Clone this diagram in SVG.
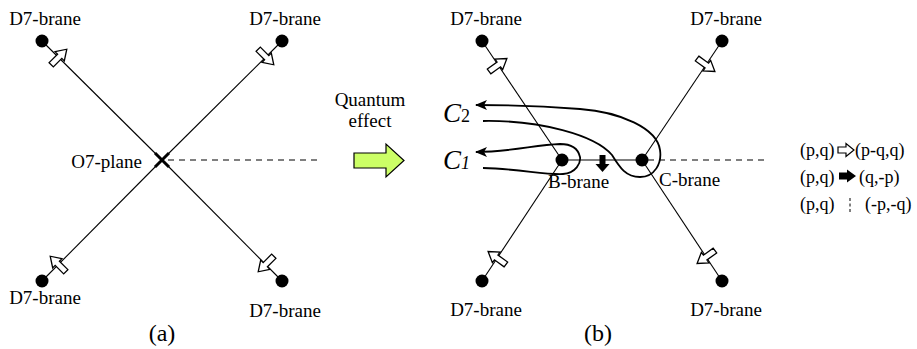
<svg xmlns="http://www.w3.org/2000/svg" width="917" height="349" viewBox="0 0 917 349">
<style>
text{font-family:"Liberation Serif","Times New Roman",serif;font-size:19px;fill:#000}
.big{font-size:24px}
.lg{font-size:18px}
.cut{stroke:#000;stroke-width:1.1;fill:none}
.dash{stroke:#000;stroke-width:1.1;stroke-dasharray:6 5;fill:none}
.dot{fill:#000}
.ha{fill:#fff;stroke:#000;stroke-width:1.3;stroke-linejoin:miter}
.curve{fill:none;stroke:#000;stroke-width:1.8}
.ci{font-style:italic;font-size:27px}
.cs{font-size:18px}
</style>
<defs>
<path id="harrow" d="M-11,-3 L1,-3 L1,-6.5 L11,0 L1,6.5 L1,3 L-11,3 Z"/>
<marker id="ah" viewBox="0 0 12 10" refX="11" refY="5" markerWidth="12" markerHeight="10" orient="auto" markerUnits="userSpaceOnUse">
<path d="M0,0 L12,5 L0,10 L3,5 Z" fill="#000"/>
</marker>
</defs>

<g id="connectors">
<line class="cut" x1="42" y1="41" x2="162" y2="160"/>
<line class="cut" x1="282" y1="41" x2="162" y2="160"/>
<line class="cut" x1="42" y1="281" x2="162" y2="160"/>
<line class="cut" x1="282" y1="281" x2="162" y2="160"/>
<line class="dash" x1="168" y1="160" x2="322" y2="160"/>
<line class="cut" x1="482" y1="41" x2="562" y2="160"/>
<line class="cut" x1="482" y1="281" x2="562" y2="160"/>
<line class="cut" x1="722" y1="41" x2="642" y2="160"/>
<line class="cut" x1="722" y1="281" x2="642" y2="160"/>
<line class="cut" x1="562" y1="160" x2="642" y2="160"/>
<line class="dash" x1="648" y1="160" x2="764" y2="160"/>
<path class="curve" marker-end="url(#ah)" d="M483,121 C540,120 595,135 612,155 C620,168 626,177 640,177 C655,177 662,163 660,150 C657,128 620,112 580,109 C540,106 510,105 476,105"/>
<path class="curve" marker-end="url(#ah)" d="M483,168 C520,169 545,175 563,174 C576,173 581,163 580,157 C578,148 570,144 560,144 C535,145 510,152 476,152"/>
</g>

<g id="a-tl"><circle class="dot" cx="42" cy="41" r="6.5"/><use href="#harrow" class="ha" transform="translate(59,57) rotate(-45)"/><text x="45" y="25" text-anchor="middle">D7-brane</text></g>
<g id="a-tr"><circle class="dot" cx="282" cy="41" r="6.5"/><use href="#harrow" class="ha" transform="translate(266,57) rotate(45)"/><text x="285" y="25" text-anchor="middle">D7-brane</text></g>
<g id="a-bl"><circle class="dot" cx="42" cy="281" r="6.5"/><use href="#harrow" class="ha" transform="translate(58,264) rotate(-135)"/><text x="45" y="304" text-anchor="middle">D7-brane</text></g>
<g id="a-br"><circle class="dot" cx="282" cy="281" r="6.5"/><use href="#harrow" class="ha" transform="translate(266,264) rotate(135)"/><text x="285" y="317" text-anchor="middle">D7-brane</text></g>
<g id="o7"><path d="M155,153 L169,167 M169,153 L155,167" stroke="#000" stroke-width="3"/><text x="142" y="168" text-anchor="end">O7-plane</text></g>
<text class="big" x="162" y="341" text-anchor="middle">(a)</text>

<g id="quantum">
<text x="370" y="106" text-anchor="middle">Quantum</text>
<text x="370" y="127" text-anchor="middle">effect</text>
<path d="M354,153 L386,153 L386,144 L404,160.5 L386,177 L386,168 L354,168 Z" fill="#ccff66" stroke="#000" stroke-width="1.2"/>
</g>

<g id="b-tl"><circle class="dot" cx="482" cy="41" r="6.5"/><use href="#harrow" class="ha" transform="translate(498,65) rotate(-36)"/><text x="486" y="25" text-anchor="middle">D7-brane</text></g>
<g id="b-bl"><circle class="dot" cx="482" cy="281" r="6.5"/><use href="#harrow" class="ha" transform="translate(497,258) rotate(-144)"/><text x="486" y="316" text-anchor="middle">D7-brane</text></g>
<g id="b-tr"><circle class="dot" cx="722" cy="41" r="6.5"/><use href="#harrow" class="ha" transform="translate(706,65) rotate(36)"/><text x="726" y="25" text-anchor="middle">D7-brane</text></g>
<g id="b-br"><circle class="dot" cx="722" cy="281" r="6.5"/><use href="#harrow" class="ha" transform="translate(706,257) rotate(144)"/><text x="726" y="316" text-anchor="middle">D7-brane</text></g>
<g id="b-brane"><circle class="dot" cx="562" cy="160" r="6.5"/><text x="548" y="188">B-brane</text></g>
<g id="c-brane"><circle class="dot" cx="642" cy="160" r="6.5"/><text x="659" y="186">C-brane</text></g>
<path id="black-arrow" d="M599.5,155 L605.5,155 L605.5,164 L609.5,164 L602.5,172 L595.5,164 L599.5,164 Z" fill="#000"/>
<g id="c2"><text x="443" y="122"><tspan class="ci">C</tspan><tspan class="cs">2</tspan></text></g>
<g id="c1"><text x="443" y="169"><tspan class="ci">C</tspan><tspan class="cs" font-style="italic">1</tspan></text></g>
<text class="big" x="598" y="341" text-anchor="middle">(b)</text>

<g id="legend">
<text class="lg" x="800" y="156">(p,q)</text>
<path d="M838,147 L846,147 L846,143.5 L854,150 L846,156.5 L846,153 L838,153 Z" fill="#fff" stroke="#000" stroke-width="1.2"/>
<text class="lg" x="855" y="156">(p-q,q)</text>
<text class="lg" x="800" y="183">(p,q)</text>
<path d="M839,172.5 L847,172.5 L847,169.5 L856,176 L847,182.5 L847,179.5 L839,179.5 Z" fill="#000"/>
<text class="lg" x="859" y="183">(q,-p)</text>
<text class="lg" x="800" y="210">(p,q)</text>
<line x1="850" y1="198" x2="850" y2="214" stroke="#000" stroke-width="1" stroke-dasharray="3 2.5"/>
<text class="lg" x="865" y="210">(-p,-q)</text>
</g>
</svg>
